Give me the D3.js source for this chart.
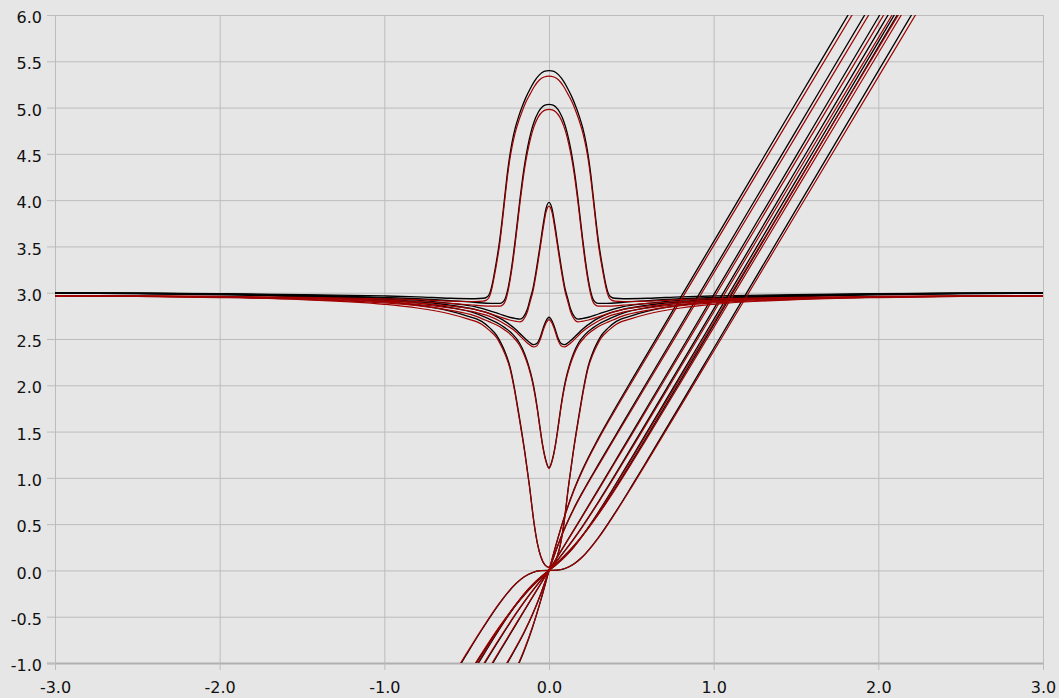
<!DOCTYPE html>
<html>
<head>
<meta charset="utf-8">
<script src="https://cdn.jsdelivr.net/npm/d3@7"></script>
<style>
  html, body { margin: 0; padding: 0; background: #e6e6e6; }
  svg { display: block; }
</style>
</head>
<body>
<svg id="chart" width="1059" height="698"></svg>
<script>
// Axis ticks
const xTicks = [-3, -2, -1, 0, 1, 2, 3];
const yTicks = [-1, -0.5, 0, 0.5, 1, 1.5, 2, 2.5, 3, 3.5, 4, 4.5, 5, 5.5, 6];

// Bump family: x positions, exact curve (black) and approximation (red)
const bump1X = [-3,-2.5,-2,-1.5,-1,-0.8,-0.6,-0.45,-0.4,-0.38,-0.365,-0.355,-0.345,-0.335,-0.32,-0.3,-0.285,-0.27,-0.255,-0.24,-0.225,-0.205,-0.185,-0.165,-0.14,-0.115,-0.09,-0.06,-0.03,0,
  0.03,0.06,0.09,0.115,0.14,0.165,0.185,0.205,0.225,0.24,0.255,0.27,0.285,0.3,0.32,0.335,0.345,0.355,0.365,0.38,0.4,0.45,0.6,0.8,1,1.5,2,2.5,3];
const bump1Black = [2.997,2.995,2.99,2.98,2.965,2.955,2.94,2.935,2.94,2.95,2.975,3.02,3.09,3.18,3.33,3.56,3.78,4.02,4.26,4.46,4.62,4.78,4.9,5.0,5.11,5.2,5.28,5.35,5.39,5.4,
  5.39,5.35,5.28,5.2,5.11,5.0,4.9,4.78,4.62,4.46,4.26,4.02,3.78,3.56,3.33,3.18,3.09,3.02,2.975,2.95,2.94,2.935,2.94,2.955,2.965,2.98,2.99,2.995,2.997];
const bump1Red = [2.967,2.965,2.96,2.95,2.935,2.925,2.91,2.905,2.91,2.92,2.945,2.99,3.06,3.15,3.295,3.52,3.74,3.98,4.215,4.415,4.57,4.73,4.85,4.95,5.06,5.145,5.225,5.295,5.33,5.34,
  5.33,5.295,5.225,5.145,5.06,4.95,4.85,4.73,4.57,4.415,4.215,3.98,3.74,3.52,3.295,3.15,3.06,2.99,2.945,2.92,2.91,2.905,2.91,2.925,2.935,2.95,2.96,2.965,2.967];

const bump2X = [-3,-2.5,-2,-1.5,-1,-0.8,-0.6,-0.45,-0.35,-0.3,-0.28,-0.265,-0.255,-0.245,-0.235,-0.22,-0.205,-0.19,-0.175,-0.16,-0.145,-0.13,-0.11,-0.09,-0.065,-0.04,-0.02,0,
  0.02,0.04,0.065,0.09,0.11,0.13,0.145,0.16,0.175,0.19,0.205,0.22,0.235,0.245,0.255,0.265,0.28,0.3,0.35,0.45,0.6,0.8,1,1.5,2,2.5,3];
const bump2Black = [2.997,2.994,2.988,2.975,2.95,2.935,2.915,2.895,2.885,2.885,2.9,2.94,3.0,3.08,3.18,3.36,3.57,3.8,4.03,4.24,4.42,4.57,4.73,4.85,4.95,5.01,5.03,5.035,
  5.03,5.01,4.95,4.85,4.73,4.57,4.42,4.24,4.03,3.8,3.57,3.36,3.18,3.08,3.0,2.94,2.9,2.885,2.885,2.895,2.915,2.935,2.95,2.975,2.988,2.994,2.997];
const bump2Red = [2.967,2.964,2.958,2.945,2.92,2.905,2.885,2.865,2.855,2.855,2.87,2.91,2.97,3.05,3.15,3.325,3.535,3.76,3.99,4.195,4.375,4.52,4.68,4.8,4.9,4.955,4.975,4.98,
  4.975,4.955,4.9,4.8,4.68,4.52,4.375,4.195,3.99,3.76,3.535,3.325,3.15,3.05,2.97,2.91,2.87,2.855,2.855,2.865,2.885,2.905,2.92,2.945,2.958,2.964,2.967];

const bump3X = [-3,-2.5,-2,-1.5,-1,-0.8,-0.6,-0.45,-0.368,-0.3,-0.24,-0.2,-0.176,-0.155,-0.13,-0.115,-0.098,-0.075,-0.055,-0.035,-0.018,0,
  0.018,0.035,0.055,0.075,0.098,0.115,0.13,0.155,0.176,0.2,0.24,0.3,0.368,0.45,0.6,0.8,1,1.5,2,2.5,3];
const bump3Black = [2.996,2.993,2.985,2.97,2.94,2.92,2.885,2.85,2.81,2.77,2.735,2.72,2.715,2.74,2.83,2.93,3.04,3.27,3.5,3.74,3.91,3.975,
  3.91,3.74,3.5,3.27,3.04,2.93,2.83,2.74,2.715,2.72,2.735,2.77,2.81,2.85,2.885,2.92,2.94,2.97,2.985,2.993,2.996];
const bump3Red = [2.966,2.963,2.955,2.94,2.91,2.89,2.855,2.82,2.78,2.74,2.705,2.69,2.685,2.71,2.8,2.9,3.01,3.235,3.465,3.7,3.87,3.935,
  3.87,3.7,3.465,3.235,3.01,2.9,2.8,2.71,2.685,2.69,2.705,2.74,2.78,2.82,2.855,2.89,2.91,2.94,2.955,2.963,2.966];

const bump4X = [-3,-2.5,-2,-1.5,-1,-0.8,-0.6,-0.45,-0.368,-0.3,-0.267,-0.2,-0.166,-0.13,-0.095,-0.075,-0.055,-0.035,-0.017,0,
  0.017,0.035,0.055,0.075,0.095,0.13,0.166,0.2,0.267,0.3,0.368,0.45,0.6,0.8,1,1.5,2,2.5,3];
const bump4Black = [2.996,2.992,2.983,2.965,2.93,2.905,2.865,2.82,2.78,2.725,2.69,2.6,2.54,2.48,2.44,2.45,2.51,2.62,2.7,2.735,
  2.7,2.62,2.51,2.45,2.44,2.48,2.54,2.6,2.69,2.725,2.78,2.82,2.865,2.905,2.93,2.965,2.983,2.992,2.996];
const bump4Red = [2.966,2.962,2.953,2.935,2.9,2.875,2.835,2.79,2.75,2.695,2.66,2.575,2.515,2.455,2.415,2.425,2.485,2.595,2.675,2.71,
  2.675,2.595,2.485,2.425,2.415,2.455,2.515,2.575,2.66,2.695,2.75,2.79,2.835,2.875,2.9,2.935,2.953,2.962,2.966];

const bump5X = [-3,-2.5,-2,-1.5,-1,-0.8,-0.6,-0.45,-0.368,-0.3,-0.267,-0.22,-0.18,-0.15,-0.125,-0.1,-0.085,-0.07,-0.055,-0.04,-0.022,0,
  0.022,0.04,0.055,0.07,0.085,0.1,0.125,0.15,0.18,0.22,0.267,0.3,0.368,0.45,0.6,0.8,1,1.5,2,2.5,3];
const bump5Black = [2.995,2.991,2.981,2.96,2.92,2.89,2.84,2.78,2.72,2.66,2.62,2.55,2.46,2.35,2.22,2.05,1.91,1.74,1.55,1.37,1.21,1.11,
  1.21,1.37,1.55,1.74,1.91,2.05,2.22,2.35,2.46,2.55,2.62,2.66,2.72,2.78,2.84,2.89,2.92,2.96,2.981,2.991,2.995];
const bump5Red = [2.965,2.961,2.951,2.93,2.89,2.86,2.81,2.75,2.69,2.635,2.595,2.525,2.435,2.325,2.2,2.03,1.89,1.725,1.535,1.36,1.2,1.1,
  1.2,1.36,1.535,1.725,1.89,2.03,2.2,2.325,2.435,2.525,2.595,2.635,2.69,2.75,2.81,2.86,2.89,2.93,2.951,2.961,2.965];

const bump6X = [-3,-2.5,-2,-1.5,-1,-0.8,-0.6,-0.5,-0.409,-0.36,-0.318,-0.29,-0.267,-0.237,-0.21,-0.186,-0.146,-0.119,-0.089,-0.07,-0.05,-0.025,0,
  0.025,0.05,0.07,0.089,0.119,0.146,0.186,0.21,0.237,0.267,0.29,0.318,0.36,0.409,0.5,0.6,0.8,1,1.5,2,2.5,3];
const bump6Black = [2.995,2.99,2.978,2.955,2.905,2.865,2.8,2.75,2.69,2.62,2.54,2.45,2.36,2.2,1.97,1.72,1.27,0.92,0.49,0.29,0.15,0.06,0.034,
  0.06,0.15,0.29,0.49,0.92,1.27,1.72,1.97,2.2,2.36,2.45,2.54,2.62,2.69,2.75,2.8,2.865,2.905,2.955,2.978,2.99,2.995];
const bump6Red = [2.965,2.96,2.948,2.925,2.875,2.835,2.77,2.72,2.66,2.59,2.515,2.425,2.335,2.18,1.95,1.7,1.255,0.91,0.485,0.285,0.15,0.06,0.034,
  0.06,0.15,0.285,0.485,0.91,1.255,1.7,1.95,2.18,2.335,2.425,2.515,2.59,2.66,2.72,2.77,2.835,2.875,2.925,2.948,2.96,2.965];

// Ramp family: shared x positions, exact (black) and approximation (red)
const rampX = [-0.8,-0.6,-0.5,-0.4,-0.3,-0.2,-0.15,-0.1,-0.05,0,0.05,0.1,0.15,0.2,0.3,0.4,0.5,0.6,0.8,1,1.5,2,2.5];
const ramp1Black = [-2.952,-2.35,-2.05,-1.746,-1.43,-1.076,-0.865,-0.616,-0.324,0,0.324,0.616,0.865,1.076,1.43,1.746,2.05,2.35,2.952,3.552,5.052,6.552,8.052];
const ramp1Red = [-2.917,-2.322,-2.025,-1.725,-1.413,-1.063,-0.855,-0.609,-0.32,0,0.32,0.609,0.855,1.063,1.413,1.725,2.025,2.322,2.917,3.509,4.991,6.473,7.955];
const ramp2Black = [-2.649,-2.049,-1.749,-1.447,-1.146,-0.835,-0.667,-0.477,-0.254,0,0.254,0.477,0.667,0.835,1.146,1.447,1.749,2.049,2.649,3.249,4.749,6.249,7.749];
const ramp2Red = [-2.617,-2.024,-1.728,-1.43,-1.132,-0.825,-0.659,-0.471,-0.251,0,0.251,0.471,0.659,0.825,1.132,1.43,1.728,2.024,2.617,3.21,4.692,6.174,7.656];
const ramp3Black = [-2.376,-1.776,-1.476,-1.177,-0.878,-0.582,-0.435,-0.289,-0.144,0,0.144,0.289,0.435,0.582,0.878,1.177,1.476,1.776,2.376,2.976,4.476,5.976,7.476];
const ramp3Red = [-2.347,-1.755,-1.458,-1.163,-0.867,-0.575,-0.43,-0.286,-0.142,0,0.142,0.286,0.43,0.575,0.867,1.163,1.458,1.755,2.347,2.94,4.422,5.904,7.386];
const ramp4Black = [-2.224,-1.624,-1.326,-1.03,-0.742,-0.468,-0.34,-0.221,-0.108,0,0.108,0.221,0.34,0.468,0.742,1.03,1.326,1.624,2.224,2.823,4.323,5.823,7.323];
const ramp4Red = [-2.197,-1.605,-1.31,-1.018,-0.733,-0.462,-0.336,-0.218,-0.107,0,0.107,0.218,0.336,0.462,0.733,1.018,1.31,1.605,2.197,2.789,4.271,5.753,7.235];
const ramp5Black = [-2.11,-1.511,-1.212,-0.917,-0.631,-0.368,-0.253,-0.155,-0.072,0,0.072,0.155,0.253,0.368,0.631,0.917,1.212,1.511,2.11,2.71,4.21,5.71,7.21];
const ramp5Red = [-2.085,-1.493,-1.197,-0.906,-0.623,-0.364,-0.25,-0.153,-0.071,0,0.071,0.153,0.25,0.364,0.623,0.906,1.197,1.493,2.085,2.677,4.159,5.641,7.123];
const ramp6Black = [-2.056,-1.461,-1.167,-0.882,-0.612,-0.371,-0.265,-0.169,-0.082,0,0.082,0.169,0.265,0.371,0.612,0.882,1.167,1.461,2.056,2.655,4.155,5.655,7.155];
const ramp6Red = [-2.031,-1.443,-1.153,-0.871,-0.605,-0.367,-0.262,-0.167,-0.081,0,0.081,0.167,0.262,0.367,0.605,0.871,1.153,1.443,2.031,2.623,4.105,5.587,7.069];
const ramp7Black = [-1.797,-1.2,-0.905,-0.619,-0.355,-0.142,-0.069,-0.023,-0.003,0,0.003,0.023,0.069,0.142,0.355,0.619,0.905,1.2,1.797,2.397,3.897,5.397,6.897];
const ramp7Red = [-1.775,-1.186,-0.894,-0.612,-0.351,-0.14,-0.068,-0.023,-0.003,0,0.003,0.023,0.068,0.14,0.351,0.612,0.894,1.186,1.775,2.368,3.85,5.332,6.814];

const blackSeries = [
  [bump1X, bump1Black], [bump2X, bump2Black], [bump3X, bump3Black],
  [bump4X, bump4Black], [bump5X, bump5Black], [bump6X, bump6Black],
  [rampX, ramp1Black], [rampX, ramp2Black], [rampX, ramp3Black], [rampX, ramp4Black],
  [rampX, ramp5Black], [rampX, ramp6Black], [rampX, ramp7Black]
];
const redSeries = [
  [bump1X, bump1Red], [bump2X, bump2Red], [bump3X, bump3Red],
  [bump4X, bump4Red], [bump5X, bump5Red], [bump6X, bump6Red],
  [rampX, ramp1Red], [rampX, ramp2Red], [rampX, ramp3Red], [rampX, ramp4Red],
  [rampX, ramp5Red], [rampX, ramp6Red], [rampX, ramp7Red]
];

// Layout
const plot = { left: 55, right: 1043, top: 15, bottom: 663 };
const gridColor = "#bcbcbc";
const fmt = d => d.toFixed(1);

const svg = d3.select("#chart");
svg.append("rect").attr("width", 1059).attr("height", 698).attr("fill", "#e6e6e6");

const x = d3.scaleLinear().domain([-3, 3]).range([plot.left, plot.right]);
const y = d3.scaleLinear().domain([-1, 6]).range([plot.bottom, plot.top]);

// Gridlines (no labels)
svg.append("g")
  .attr("transform", `translate(0,${plot.bottom})`)
  .call(d3.axisBottom(x).tickValues(xTicks).tickSize(-(plot.bottom - plot.top)).tickFormat(""))
  .call(g => g.select(".domain").remove())
  .call(g => g.selectAll("line").attr("stroke", gridColor).attr("stroke-width", 1));

svg.append("g")
  .attr("transform", `translate(${plot.left},0)`)
  .call(d3.axisLeft(y).tickValues(yTicks).tickSize(-(plot.right - plot.left)).tickFormat(""))
  .call(g => g.select(".domain").remove())
  .call(g => g.selectAll("line").attr("stroke", gridColor).attr("stroke-width", 1));

// Outer tick marks and labels
const xAxis = svg.append("g")
  .attr("transform", `translate(0,${plot.bottom})`)
  .call(d3.axisBottom(x).tickValues(xTicks).tickSize(7).tickPadding(12).tickFormat(fmt));
xAxis.select(".domain").attr("stroke", "#b0b0b0").attr("stroke-width", 2)
  .attr("d", `M${plot.left - 8},0.5H${plot.right}`);
xAxis.selectAll("line").attr("stroke", gridColor);

const yAxis = svg.append("g")
  .attr("transform", `translate(${plot.left},0)`)
  .call(d3.axisLeft(y).tickValues(yTicks).tickSize(8).tickPadding(5).tickFormat(fmt));
yAxis.select(".domain").attr("stroke", gridColor).attr("d", `M0.5,${plot.top}V${plot.bottom + 7}`);
yAxis.selectAll("line").attr("stroke", gridColor);
yAxis.selectAll("text").attr("dy", "0.48em");

svg.selectAll(".tick text")
  .attr("fill", "#111")
  .attr("font-family", "'DejaVu Sans', 'Liberation Sans', sans-serif")
  .attr("font-size", 16);

// Curves
svg.append("clipPath").attr("id", "plot-clip")
  .append("rect")
  .attr("x", plot.left).attr("y", plot.top)
  .attr("width", plot.right - plot.left).attr("height", plot.bottom - plot.top);

const line = d3.line()
  .x(d => x(d[0]))
  .y(d => y(d[1]))
  .curve(d3.curveMonotoneX);

const curves = svg.append("g").attr("clip-path", "url(#plot-clip)");

curves.selectAll("path.exact")
  .data(blackSeries)
  .join("path")
  .attr("class", "exact")
  .attr("d", s => line(d3.zip(s[0], s[1])))
  .attr("fill", "none")
  .attr("stroke", "#000")
  .attr("stroke-width", 1.3);

curves.selectAll("path.approx")
  .data(redSeries)
  .join("path")
  .attr("class", "approx")
  .attr("d", s => line(d3.zip(s[0], s[1])))
  .attr("fill", "none")
  .attr("stroke", "#a00000")
  .attr("stroke-width", 1.2);
</script>
</body>
</html>
